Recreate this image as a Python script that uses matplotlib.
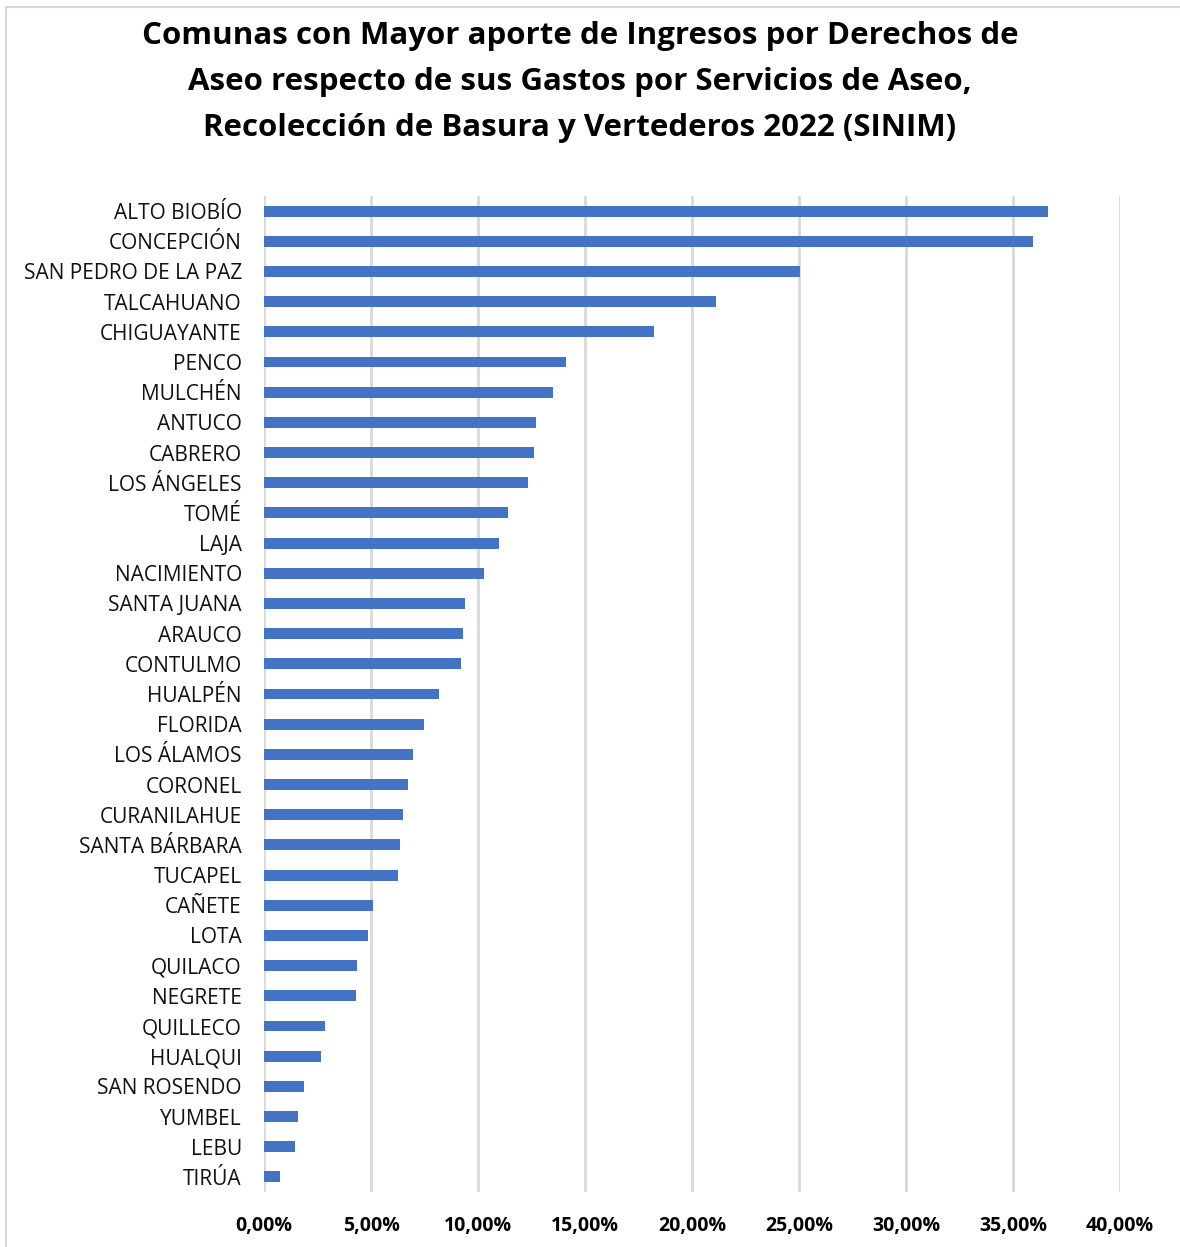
import matplotlib
matplotlib.use("Agg")
import matplotlib.pyplot as plt
from matplotlib.ticker import FuncFormatter
from matplotlib.patches import Rectangle

comunas = ["ALTO BIOBÍO", "CONCEPCIÓN", "SAN PEDRO DE LA PAZ", "TALCAHUANO", "CHIGUAYANTE",
           "PENCO", "MULCHÉN", "ANTUCO", "CABRERO", "LOS ÁNGELES", "TOMÉ", "LAJA",
           "NACIMIENTO", "SANTA JUANA", "ARAUCO", "CONTULMO", "HUALPÉN", "FLORIDA",
           "LOS ÁLAMOS", "CORONEL", "CURANILAHUE", "SANTA BÁRBARA", "TUCAPEL", "CAÑETE",
           "LOTA", "QUILACO", "NEGRETE", "QUILLECO", "HUALQUI", "SAN ROSENDO", "YUMBEL",
           "LEBU", "TIRÚA"]
valores = [36.62, 35.95, 25.05, 21.12, 18.22,
           14.11, 13.50, 12.71, 12.62, 12.34, 11.40, 10.98,
           10.28, 9.39, 9.30, 9.21, 8.18, 7.48,
           6.96, 6.73, 6.50, 6.36, 6.26, 5.09,
           4.86, 4.35, 4.30, 2.85, 2.66, 1.87, 1.59,
           1.45, 0.75]
xticks = [0, 5, 10, 15, 20, 25, 30, 35, 40]
titulo = ("Comunas con Mayor aporte de Ingresos por Derechos de\n"
          "Aseo respecto de sus Gastos por Servicios de Aseo,\n"
          "Recolección de Basura y Vertederos 2022 (SINIM)")

W, H = 1180, 1247
fig = plt.figure(figsize=(W / 100, H / 100), dpi=100)
plt.rcParams['font.family'] = ['Open Sans', 'DejaVu Sans']

ax = fig.add_axes([264 / W, 1 - 1192 / H, (1120 - 264) / W, (1192 - 196) / H])
y = list(range(len(comunas)))
ax.barh(y, valores, height=0.36, color="#4472C4", zorder=3)
ax.set_ylim(len(comunas) - 0.5, -0.5)
ax.set_xlim(0, 40)
ax.set_yticks(y)
ax.set_yticklabels(comunas, fontsize=15, color="#111111")
ax.set_xticks(xticks)
ax.xaxis.set_major_formatter(FuncFormatter(lambda v, p: f"{v:.2f}%".replace(".", ",")))
for lbl in ax.get_xticklabels():
    lbl.set_fontweight("bold")
    lbl.set_fontsize(14)
ax.tick_params(axis="both", length=0)
ax.tick_params(axis="y", pad=16)
ax.tick_params(axis="x", pad=17)
ax.grid(axis="x", color="#D9D9D9", linewidth=2, zorder=0)
for s in ax.spines.values():
    s.set_visible(False)

fig.text(580 / W, 1 - 82 / H, titulo, ha="center", va="center", fontsize=22.5,
         fontweight="bold", linespacing=1.68, color="#000000")

fig.patches.append(Rectangle((5.5 / W, -0.1), 1.2, 1 - 6.5 / H + 0.1, transform=fig.transFigure,
                             fill=False, edgecolor="#D9D9D9", linewidth=1.5))

fig.savefig("out.png", dpi=100)
